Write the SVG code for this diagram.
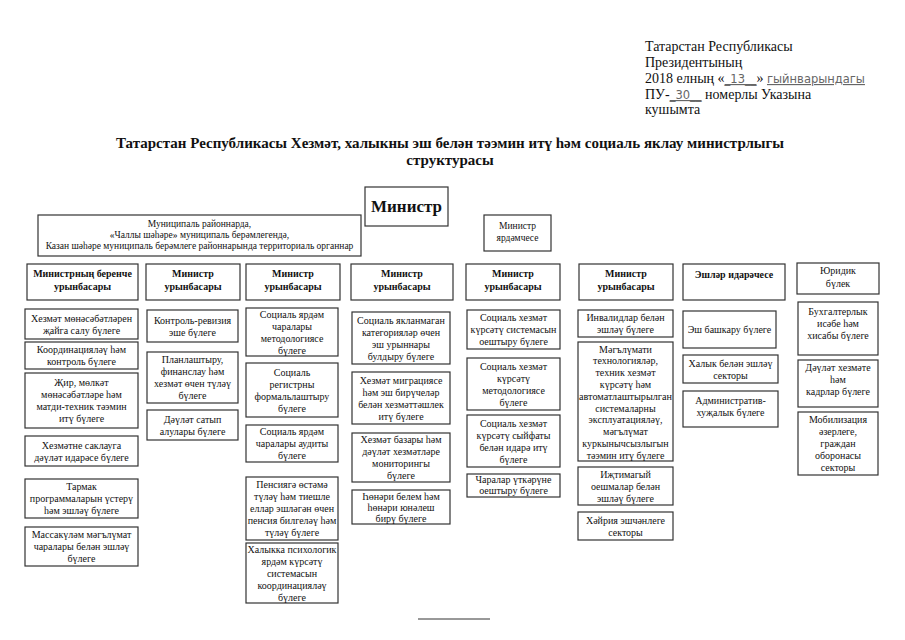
<svg xmlns="http://www.w3.org/2000/svg" width="905" height="640" viewBox="0 0 905 640">
<style>
.b{fill:#fff;stroke:#333;stroke-width:1.2}
.t{font-family:"Liberation Serif","DejaVu Serif",serif;font-size:10px;fill:#111;text-anchor:middle}
.tb{font-family:"Liberation Serif","DejaVu Serif",serif;font-size:10px;font-weight:bold;fill:#111;text-anchor:middle}
.s{font-family:"Liberation Serif","DejaVu Serif",serif;font-size:9.5px;fill:#111;text-anchor:middle}
.hd{font-family:"Liberation Serif","DejaVu Serif",serif;font-size:14px;fill:#111}
.hw{font-family:"DejaVu Sans","Liberation Sans",sans-serif;font-size:11.5px;fill:#666;text-decoration:underline}
.ti{font-family:"Liberation Serif","DejaVu Serif",serif;font-size:15px;font-weight:bold;fill:#111;text-anchor:middle}
</style>
<rect width="905" height="640" fill="#fff"/>
<g id="header">
<text class="hd" x="645" y="51">Татарстан Республикасы</text>
<text class="hd" x="645" y="67">Президентының</text>
<text class="hd" x="645" y="83">2018 елның «<tspan class="hw">_13__</tspan>» <tspan class="hw">гыйнварындагы</tspan></text>
<text class="hd" x="645" y="99">ПУ-<tspan class="hw">_30__</tspan> номерлы Указына</text>
<text class="hd" x="645" y="114">кушымта</text>
</g>
<g id="title">
<text class="ti" x="450" y="148">Татарстан Республикасы Хезмәт, халыкны эш белән тәэмин итү һәм социаль яклау министрлыгы</text>
<text class="ti" x="450" y="165">структурасы</text>
</g>
<g id="connectors"></g>
<g id="minister"><rect class="b" x="365" y="187" width="83" height="39"/><text class="tb" style="font-size:17px" x="406.5" y="212">Министр</text></g>
<g id="municipal"><rect class="b" x="38" y="215" width="323" height="41"/><text class="s"><tspan x="199.5" y="227">Муниципаль районнарда,</tspan><tspan x="199.5" y="238">«Чаллы шәһәре» муниципаль берәмлегендә,</tspan><tspan x="199.5" y="249">Казан шәһәре муниципаль берәмлеге районнарында территориаль органнар</tspan></text></g>
<g id="assistant"><rect class="b" x="484" y="215" width="67" height="36"/><text class="s"><tspan x="517.5" y="229">Министр</tspan><tspan x="517.5" y="241">ярдәмчесе</tspan></text></g>

<g id="dep1"><rect class="b" x="27" y="264" width="111" height="36"/><text class="tb"><tspan x="82.5" y="277">Министрның беренче</tspan><tspan x="82.5" y="290">урынбасары</tspan></text></g>
<g id="dep2"><rect class="b" x="146" y="264" width="94" height="36"/><text class="tb"><tspan x="193" y="277">Министр</tspan><tspan x="193" y="290">урынбасары</tspan></text></g>
<g id="dep3"><rect class="b" x="246" y="264" width="94" height="36"/><text class="tb"><tspan x="293" y="277">Министр</tspan><tspan x="293" y="290">урынбасары</tspan></text></g>
<g id="dep4"><rect class="b" x="351" y="264" width="102" height="36"/><text class="tb"><tspan x="402" y="277">Министр</tspan><tspan x="402" y="290">урынбасары</tspan></text></g>
<g id="dep5"><rect class="b" x="466" y="264" width="94" height="36"/><text class="tb"><tspan x="513" y="277">Министр</tspan><tspan x="513" y="290">урынбасары</tspan></text></g>
<g id="dep6"><rect class="b" x="579" y="264" width="94" height="36"/><text class="tb"><tspan x="626" y="277">Министр</tspan><tspan x="626" y="290">урынбасары</tspan></text></g>
<g id="affairs"><rect class="b" x="683" y="264" width="102" height="36"/><text class="tb" x="734" y="278">Эшләр идарәчесе</text></g>
<g id="legal"><rect class="b" x="797" y="263" width="82" height="31"/><text class="t"><tspan x="838" y="274">Юридик</tspan><tspan x="838" y="287">бүлек</tspan></text></g>

<g id="c1a"><rect class="b" x="25" y="309" width="113" height="30"/><text class="t"><tspan x="81.5" y="321.5">Хезмәт мөнәсәбәтләрен</tspan><tspan x="81.5" y="333.5">җайга салу бүлеге</tspan></text></g>
<g id="c1b"><rect class="b" x="25" y="342" width="113" height="27"/><text class="t"><tspan x="81.5" y="353">Координацияләү һәм</tspan><tspan x="81.5" y="365">контроль бүлеге</tspan></text></g>
<g id="c1c"><rect class="b" x="25" y="373" width="113" height="55"/><text class="t"><tspan x="81.5" y="386">Җир, мөлкәт</tspan><tspan x="81.5" y="398">мөнәсәбәтләре һәм</tspan><tspan x="81.5" y="410">матди-техник тәэмин</tspan><tspan x="81.5" y="422">итү бүлеге</tspan></text></g>
<g id="c1d"><rect class="b" x="25" y="436" width="113" height="30"/><text class="t"><tspan x="81.5" y="448.5">Хезмәтне саклауга</tspan><tspan x="81.5" y="460.5">дәүләт идарәсе бүлеге</tspan></text></g>
<g id="c1e"><rect class="b" x="25" y="479" width="113" height="39"/><text class="t"><tspan x="81.5" y="490">Тармак</tspan><tspan x="81.5" y="502">программаларын үстерү</tspan><tspan x="81.5" y="514">һәм эшләү бүлеге</tspan></text></g>
<g id="c1f"><rect class="b" x="25" y="527" width="113" height="39"/><text class="t"><tspan x="81.5" y="538">Массакүләм мәгълүмат</tspan><tspan x="81.5" y="550">чаралары белән эшләү</tspan><tspan x="81.5" y="562">бүлеге</tspan></text></g>

<g id="c2a"><rect class="b" x="147" y="310" width="91" height="32"/><text class="t"><tspan x="192.5" y="323.5">Контроль-ревизия</tspan><tspan x="192.5" y="335.5">эше бүлеге</tspan></text></g>
<g id="c2b"><rect class="b" x="147" y="352" width="91" height="51"/><text class="t"><tspan x="192.5" y="363">Планлаштыру,</tspan><tspan x="192.5" y="375">финанслау һәм</tspan><tspan x="192.5" y="387">хезмәт өчен түләү</tspan><tspan x="192.5" y="399">бүлеге</tspan></text></g>
<g id="c2c"><rect class="b" x="147" y="410" width="91" height="30"/><text class="t"><tspan x="192.5" y="422.5">Дәүләт сатып</tspan><tspan x="192.5" y="434.5">алулары бүлеге</tspan></text></g>

<g id="c3a"><rect class="b" x="246" y="308" width="92" height="48"/><text class="t"><tspan x="292" y="317.5">Социаль ярдәм</tspan><tspan x="292" y="329.5">чаралары</tspan><tspan x="292" y="341.5">методологиясе</tspan><tspan x="292" y="353.5">бүлеге</tspan></text></g>
<g id="c3b"><rect class="b" x="246" y="363" width="92" height="54"/><text class="t"><tspan x="292" y="375.5">Социаль</tspan><tspan x="292" y="387.5">регистрны</tspan><tspan x="292" y="399.5">формальлаштыру</tspan><tspan x="292" y="411.5">бүлеге</tspan></text></g>
<g id="c3c"><rect class="b" x="246" y="425" width="92" height="37"/><text class="t"><tspan x="292" y="435">Социаль ярдәм</tspan><tspan x="292" y="447">чаралары аудиты</tspan><tspan x="292" y="459">бүлеге</tspan></text></g>
<g id="c3d"><rect class="b" x="246" y="477" width="92" height="63"/><text class="t"><tspan x="292" y="488">Пенсиягә өстәмә</tspan><tspan x="292" y="500">түләү һәм тиешле</tspan><tspan x="292" y="512">еллар эшләгән өчен</tspan><tspan x="292" y="524">пенсия билгеләү һәм</tspan><tspan x="292" y="536">түләү бүлеге</tspan></text></g>
<g id="c3e"><rect class="b" x="246" y="543" width="92" height="60"/><text class="t"><tspan x="292" y="552.5">Халыкка психологик</tspan><tspan x="292" y="564.5">ярдәм күрсәтү</tspan><tspan x="292" y="576.5">системасын</tspan><tspan x="292" y="588.5">координацияләү</tspan><tspan x="292" y="600.5">бүлеге</tspan></text></g>

<g id="c4a"><rect class="b" x="352" y="312" width="98" height="52"/><text class="t"><tspan x="401" y="323.5">Социаль якланмаган</tspan><tspan x="401" y="335.5">категорияләр өчен</tspan><tspan x="401" y="347.5">эш урыннары</tspan><tspan x="401" y="359.5">булдыру бүлеге</tspan></text></g>
<g id="c4b"><rect class="b" x="352" y="372" width="98" height="52"/><text class="t"><tspan x="401" y="383.5">Хезмәт миграциясе</tspan><tspan x="401" y="395.5">һәм эш бирүчеләр</tspan><tspan x="401" y="407.5">белән хезмәттәшлек</tspan><tspan x="401" y="419.5">итү бүлеге</tspan></text></g>
<g id="c4c"><rect class="b" x="352" y="433" width="98" height="49"/><text class="t"><tspan x="401" y="443">Хезмәт базары һәм</tspan><tspan x="401" y="455">дәүләт хезмәтләре</tspan><tspan x="401" y="467">мониторингы</tspan><tspan x="401" y="479">бүлеге</tspan></text></g>
<g id="c4d"><rect class="b" x="352" y="490" width="98" height="34"/><text class="t"><tspan x="401" y="499.5">Һөнәри белем һәм</tspan><tspan x="401" y="510.5">һөнәри юнәлеш</tspan><tspan x="401" y="521.5">бирү бүлеге</tspan></text></g>

<g id="c5a"><rect class="b" x="467" y="310" width="93" height="39"/><text class="t"><tspan x="513.5" y="321">Социаль хезмәт</tspan><tspan x="513.5" y="333">күрсәтү системасын</tspan><tspan x="513.5" y="345">оештыру бүлеге</tspan></text></g>
<g id="c5b"><rect class="b" x="467" y="358" width="93" height="52"/><text class="t"><tspan x="513.5" y="369.5">Социаль хезмәт</tspan><tspan x="513.5" y="381.5">күрсәтү</tspan><tspan x="513.5" y="393.5">методологиясе</tspan><tspan x="513.5" y="405.5">бүлеге</tspan></text></g>
<g id="c5c"><rect class="b" x="467" y="415" width="93" height="52"/><text class="t"><tspan x="513.5" y="426.5">Социаль хезмәт</tspan><tspan x="513.5" y="438.5">күрсәтү сыйфаты</tspan><tspan x="513.5" y="450.5">белән идарә итү</tspan><tspan x="513.5" y="462.5">бүлеге</tspan></text></g>
<g id="c5d"><rect class="b" x="467" y="474" width="93" height="23"/><text class="t"><tspan x="513.5" y="483">Чаралар үткәрүне</tspan><tspan x="513.5" y="494">оештыру бүлеге</tspan></text></g>

<g id="c6a"><rect class="b" x="578" y="310" width="95" height="27"/><text class="t"><tspan x="625.5" y="321">Инвалидлар белән</tspan><tspan x="625.5" y="333">эшләү бүлеге</tspan></text></g>
<g id="c6b"><rect class="b" x="578" y="342" width="95" height="119"/><text class="t"><tspan x="625.5" y="352.5">Мәгълүмати</tspan><tspan x="625.5" y="364.3">технологияләр,</tspan><tspan x="625.5" y="376.1">техник хезмәт</tspan><tspan x="625.5" y="387.9">күрсәтү һәм</tspan><tspan x="625.5" y="399.7" textLength="93" lengthAdjust="spacingAndGlyphs">автоматлаштырылган</tspan><tspan x="625.5" y="411.5">системаларны</tspan><tspan x="625.5" y="423.3">эксплуатацияләү,</tspan><tspan x="625.5" y="435.1">мәгълүмат</tspan><tspan x="625.5" y="446.9">куркынычсызлыгын</tspan><tspan x="625.5" y="458.7">тәэмин итү бүлеге</tspan></text></g>
<g id="c6c"><rect class="b" x="578" y="467" width="95" height="38"/><text class="t"><tspan x="625.5" y="477.5">Иҗтимагый</tspan><tspan x="625.5" y="489.5">оешмалар белән</tspan><tspan x="625.5" y="501.5">эшләү бүлеге</tspan></text></g>
<g id="c6d"><rect class="b" x="578" y="512" width="95" height="28"/><text class="t"><tspan x="625.5" y="523.5">Хәйрия эшчәнлеге</tspan><tspan x="625.5" y="535.5">секторы</tspan></text></g>

<g id="c7a"><rect class="b" x="683" y="311" width="93" height="37"/><text class="t" x="729.5" y="333">Эш башкару бүлеге</text></g>
<g id="c7b"><rect class="b" x="683" y="355" width="95" height="28"/><text class="t"><tspan x="730.5" y="366.5">Халык белән эшләү</tspan><tspan x="730.5" y="378.5">секторы</tspan></text></g>
<g id="c7c"><rect class="b" x="683" y="391" width="95" height="36"/><text class="t"><tspan x="730.5" y="404">Административ-</tspan><tspan x="730.5" y="416">хуҗалык бүлеге</tspan></text></g>

<g id="c8a"><rect class="b" x="798" y="302" width="80" height="53"/><text class="t"><tspan x="838" y="315">Бухгалтерлык</tspan><tspan x="838" y="327">исәбе һәм</tspan><tspan x="838" y="339">хисабы бүлеге</tspan></text></g>
<g id="c8b"><rect class="b" x="798" y="360" width="80" height="47"/><text class="t"><tspan x="838" y="371">Дәүләт хезмәте</tspan><tspan x="838" y="383">һәм</tspan><tspan x="838" y="395">кадрлар бүлеге</tspan></text></g>
<g id="c8c"><rect class="b" x="798" y="412" width="80" height="63"/><text class="t"><tspan x="838" y="423">Мобилизация</tspan><tspan x="838" y="435">әзерлеге,</tspan><tspan x="838" y="447">граждан</tspan><tspan x="838" y="459">оборонасы</tspan><tspan x="838" y="471">секторы</tspan></text></g>

<line x1="418" y1="619" x2="490" y2="619" stroke="#333" stroke-width="1"/>
</svg>
